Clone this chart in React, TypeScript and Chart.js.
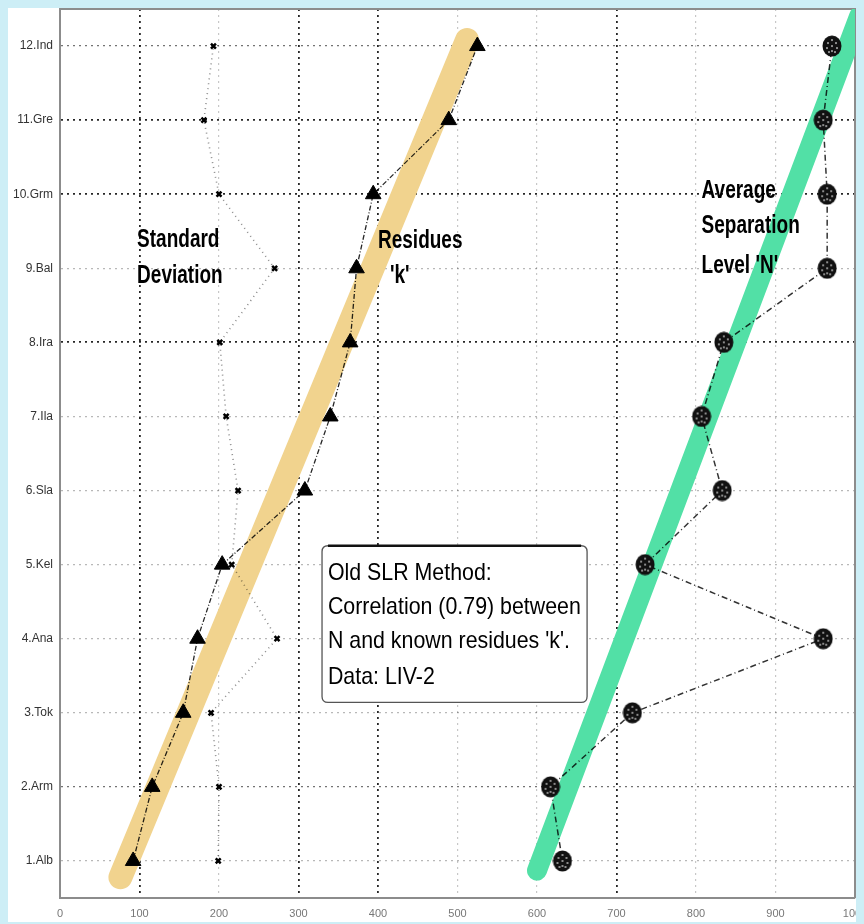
import React, { useEffect, useRef } from 'react';
import { Chart, registerables } from 'chart.js';

Chart.register(...registerables);

// ---- data ----
const categories = ['1.Alb', '2.Arm', '3.Tok', '4.Ana', '5.Kel', '6.Sla', '7.Ila', '8.Ira', '9.Bal', '10.Grm', '11.Gre', '12.Ind'];
const categoryPositions = [1, 2, 3, 4, 5, 6, 7, 8, 9, 10, 11, 12];
const residuesK = [92, 116, 155, 173, 204, 308, 340, 365, 373, 394, 489, 525];
const standardDeviation = [199, 200, 190, 273, 216, 224, 209, 201, 270, 200, 181, 193];
const separationN = [632, 617, 720, 960, 736, 833, 807, 835, 965, 965, 960, 971];
const residuesTrendX = [76, 512];
const residuesTrendY = [0.78, 12.08];
const separationTrendX = [600, 1005];
const separationTrendY = [0.87, 12.4];
const xTicks = [0, 100, 200, 300, 400, 500, 600, 700, 800, 900, 1000];
const heavyXGrid = [100, 300, 400, 700];
const heavyYGrid = [8, 10, 11];
const mediumYGrid = [2, 12];

const boxLines = ['Old SLR Method:', 'Correlation (0.79) between', "N and known residues 'k'.", 'Data: LIV-2'];

function pts(xs: number[], ys: number[]) {
  return xs.map((x, i) => ({ x, y: ys[i] }));
}

function makeBall(): HTMLCanvasElement {
  const c = document.createElement('canvas');
  c.width = 20;
  c.height = 22;
  const g = c.getContext('2d')!;
  g.fillStyle = '#111';
  g.beginPath();
  g.ellipse(10, 11, 9.5, 10.5, 0, 0, Math.PI * 2);
  g.fill();
  g.fillStyle = '#cfcfcf';
  const specks = [[10, 5], [6, 8], [14, 8], [10, 11], [5, 13], [15, 13], [7, 17], [13, 17], [10, 16]];
  specks.forEach(([x, y]) => g.fillRect(x - 0.8, y - 0.8, 1.6, 1.6));
  return c;
}

function drawScaled(ctx: CanvasRenderingContext2D, text: string, x: number, y: number, sx: number) {
  ctx.save();
  ctx.translate(x, y);
  ctx.scale(sx, 1);
  ctx.fillText(text, 0, 0);
  ctx.restore();
}

const decorPlugin = {
  id: 'decor',
  beforeDraw(chart: any) {
    const { ctx, width, height } = chart;
    ctx.save();
    ctx.fillStyle = '#ffffff';
    ctx.fillRect(0, 0, width, height);
    ctx.restore();
  },
  beforeDatasetsDraw(chart: any) {
    const { ctx, chartArea } = chart;
    ctx.save();
    ctx.strokeStyle = '#8c8c8c';
    ctx.lineWidth = 2;
    ctx.beginPath();
    ctx.moveTo(chartArea.left, chartArea.top);
    ctx.lineTo(chartArea.right, chartArea.top);
    ctx.lineTo(chartArea.right, chartArea.bottom);
    ctx.stroke();
    ctx.restore();
  },
  afterDatasetsDraw(chart: any) {
    const { ctx } = chart;
    const xs = chart.scales.x;
    const ys = chart.scales.y;
    const X = (v: number) => xs.getPixelForValue(v);
    const Y = (v: number) => ys.getPixelForValue(v);
    ctx.save();
    ctx.fillStyle = '#000';
    ctx.textBaseline = 'alphabetic';
    ctx.textAlign = 'left';
    ctx.font = 'bold 25px "Liberation Sans", Arial, sans-serif';
    const bsx = 0.76;
    drawScaled(ctx, 'Standard', X(97), Y(9.29), bsx);
    drawScaled(ctx, 'Deviation', X(97), Y(8.8), bsx);
    drawScaled(ctx, 'Residues', X(400), Y(9.28), bsx);
    drawScaled(ctx, "'k'", X(415), Y(8.8), bsx);
    drawScaled(ctx, 'Average', X(807), Y(9.95), bsx);
    drawScaled(ctx, 'Separation', X(807), Y(9.47), bsx);
    drawScaled(ctx, "Level 'N'", X(807), Y(8.94), bsx);

    // annotation box
    const bl = X(329.6), br = X(663), bt = Y(5.255), bb = Y(3.14);
    const r = 6;
    ctx.fillStyle = '#ffffff';
    ctx.strokeStyle = '#555';
    ctx.lineWidth = 1.3;
    ctx.beginPath();
    ctx.moveTo(bl + r, bt);
    ctx.lineTo(br - r, bt);
    ctx.quadraticCurveTo(br, bt, br, bt + r);
    ctx.lineTo(br, bb - r);
    ctx.quadraticCurveTo(br, bb, br - r, bb);
    ctx.lineTo(bl + r, bb);
    ctx.quadraticCurveTo(bl, bb, bl, bb - r);
    ctx.lineTo(bl, bt + r);
    ctx.quadraticCurveTo(bl, bt, bl + r, bt);
    ctx.closePath();
    ctx.fill();
    ctx.stroke();
    ctx.strokeStyle = '#111';
    ctx.lineWidth = 2.5;
    ctx.beginPath();
    ctx.moveTo(bl + r, bt);
    ctx.lineTo(br - r, bt);
    ctx.stroke();

    ctx.fillStyle = '#000';
    ctx.font = '24px "Liberation Sans", Arial, sans-serif';
    const lineYs = [4.788, 4.33, 3.871, 3.39];
    boxLines.forEach((t, i) => drawScaled(ctx, t, X(337), Y(lineYs[i]), 0.89));
    ctx.restore();
  },
};

export default function App() {
  const ref = useRef<HTMLCanvasElement>(null);

  useEffect(() => {
    document.documentElement.style.overflow = 'hidden';
    document.body.style.overflow = 'hidden';
    document.body.style.background = '#cdeef6';
    const canvas = ref.current!;
    const ball = makeBall();

    const chart = new Chart(canvas, {
      type: 'line',
      data: {
        datasets: [
          {
            label: "Residues 'k'",
            data: pts(residuesK, categoryPositions),
            borderColor: 'rgba(0,0,0,0.85)',
            borderWidth: 1.3,
            borderDash: [5, 2, 1, 2],
            pointStyle: 'triangle',
            pointRadius: 9,
            pointBackgroundColor: '#000',
            pointBorderColor: '#000',
            pointBorderWidth: 1,
            fill: false,
          },
          {
            label: 'Standard Deviation',
            data: pts(standardDeviation, categoryPositions),
            borderColor: 'rgba(0,0,0,0.45)',
            borderWidth: 1.6,
            borderDash: [1, 4],
            pointStyle: 'crossRot',
            pointRadius: 3.5,
            pointBorderColor: '#000',
            pointBorderWidth: 2.5,
            fill: false,
          },
          {
            label: "Average Separation Level 'N'",
            data: pts(separationN, categoryPositions),
            borderColor: 'rgba(0,0,0,0.8)',
            borderWidth: 1.5,
            borderDash: [6, 3, 1, 3],
            pointStyle: ball as any,
            pointRadius: 10,
            fill: false,
          },
          {
            label: 'Residues trend',
            data: pts(residuesTrendX, residuesTrendY),
            borderColor: '#f1d38e',
            borderWidth: 24,
            borderCapStyle: 'round',
            pointRadius: 0,
            fill: false,
            clip: 0,
          },
          {
            label: 'Separation trend',
            data: pts(separationTrendX, separationTrendY),
            borderColor: '#52e0a6',
            borderWidth: 20,
            borderCapStyle: 'round',
            pointRadius: 0,
            fill: false,
            clip: 0,
          },
        ],
      },
      options: {
        animation: false,
        responsive: false,
        maintainAspectRatio: false,
        layout: { autoPadding: false, padding: { top: 1, right: 9, left: 0, bottom: 0 } },
        plugins: { legend: { display: false }, tooltip: { enabled: false } },
        scales: {
          x: {
            type: 'linear',
            min: 0,
            max: 1000,
            afterBuildTicks: (s: any) => {
              s.ticks = xTicks.map((v) => ({ value: v }));
            },
            afterFit: (s: any) => {
              s.height = 24;
              s.paddingLeft = 0;
              s.paddingRight = 0;
            },
            grid: {
              drawTicks: false,
              color: (c: any) => {
                const v = c.tick ? c.tick.value : -1;
                if (v === 0 || v === 1000) return 'rgba(0,0,0,0)';
                return heavyXGrid.includes(v) ? 'rgba(0,0,0,0.85)' : 'rgba(0,0,0,0.22)';
              },
              lineWidth: (c: any) => (c.tick && heavyXGrid.includes(c.tick.value) ? 1.8 : 1.2),
            },
            border: { display: true, color: '#8c8c8c', width: 2, dash: [2, 4] },
            ticks: {
              padding: 9,
              color: '#777',
              font: { family: '"Liberation Sans", Arial, sans-serif', size: 11 },
              maxRotation: 0,
              autoSkip: false,
              callback: (v: any) => String(v),
            },
          },
          y: {
            type: 'linear',
            min: 0.5,
            max: 12.5,
            afterBuildTicks: (s: any) => {
              s.ticks = categoryPositions.map((v) => ({ value: v }));
            },
            afterFit: (s: any) => {
              s.width = 52;
              s.paddingTop = 0;
              s.paddingBottom = 0;
            },
            grid: {
              drawTicks: false,
              color: (c: any) => {
                const v = c.tick ? c.tick.value : -1;
                if (heavyYGrid.includes(v)) return 'rgba(0,0,0,0.85)';
                if (mediumYGrid.includes(v)) return 'rgba(0,0,0,0.55)';
                return 'rgba(0,0,0,0.28)';
              },
              lineWidth: (c: any) => (c.tick && heavyYGrid.includes(c.tick.value) ? 1.8 : 1.3),
            },
            border: { display: true, color: '#8c8c8c', width: 2, dash: [2, 4] },
            ticks: {
              padding: 7,
              color: '#333',
              font: { family: '"Liberation Sans", Arial, sans-serif', size: 12 },
              autoSkip: false,
              callback: (v: any) => {
                const i = categoryPositions.indexOf(Number(v));
                return i >= 0 ? categories[i] : '';
              },
            },
          },
        },
      },
      plugins: [decorPlugin],
    } as any);

    return () => chart.destroy();
  }, []);

  return (
    <canvas
      ref={ref}
      width={856}
      height={914}
      style={{ display: 'block', width: 856, height: 914 }}
    />
  );
}
